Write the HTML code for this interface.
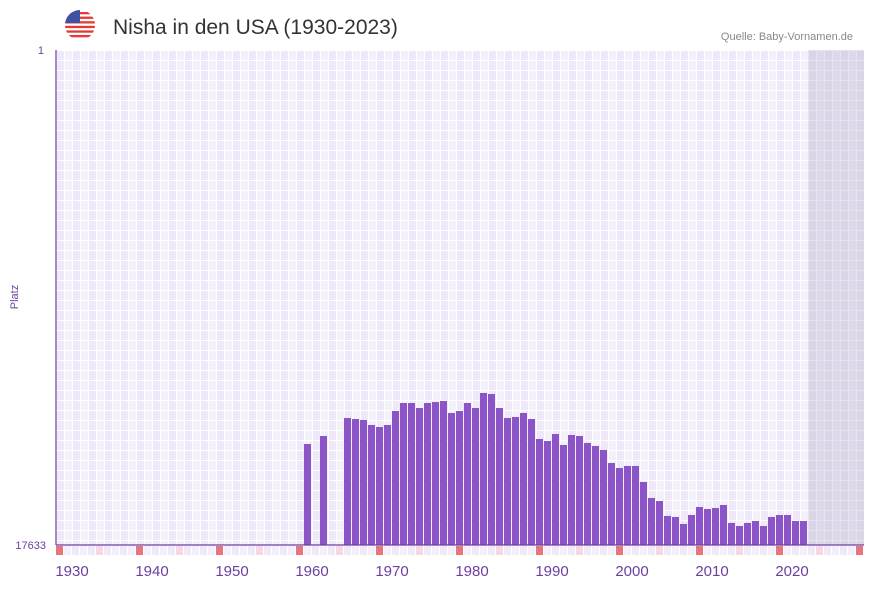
<!DOCTYPE html>
<html><head><meta charset="utf-8"><style>
body{margin:0;background:#fff;width:873px;height:587px;overflow:hidden;font-family:"Liberation Sans",sans-serif}
</style></head><body>
<svg id="chart" width="873" height="587" viewBox="0 0 873 587" xmlns="http://www.w3.org/2000/svg">
<defs>
<pattern id="grid" x="56" y="50" width="16" height="10" patternUnits="userSpaceOnUse">
<rect width="16" height="10" fill="#ffffff"/><rect width="7" height="9" x="1" y="1" fill="#eee8f8"/><rect width="7" height="9" x="9" y="1" fill="#f3effb"/>
</pattern>
<clipPath id="fc"><circle cx="80" cy="25" r="15"/></clipPath>
</defs>
<g clip-path="url(#fc)">
<rect x="65" y="10" width="30" height="30" fill="#fff"/>
<rect x="65" y="12" width="30" height="2.3" fill="#e53935"/><rect x="65" y="16.6" width="30" height="2.3" fill="#e53935"/>
<rect x="65" y="21.2" width="30" height="2.3" fill="#e53935"/><rect x="65" y="25.8" width="30" height="2.3" fill="#e53935"/>
<rect x="65" y="30.4" width="30" height="2.3" fill="#e53935"/><rect x="65" y="35" width="30" height="2.3" fill="#e53935"/>
<rect x="65" y="10" width="15" height="13" fill="#3f51a5"/>
</g>
<text x="113" y="34" font-size="21" fill="#333">Nisha in den USA (1930-2023)</text>
<text x="853" y="40" font-size="11" fill="#888" text-anchor="end">Quelle: Baby-Vornamen.de</text>
<rect x="56" y="50" width="808" height="495" fill="url(#grid)"/>
<rect x="808" y="50" width="56" height="495" fill="#b8b0cc" opacity="0.35"/>
<g id="bars"></g>
<g id="strip"></g>
<g id="xticks"></g>
<line x1="56" y1="50" x2="56" y2="545" stroke="#6a3fa0" stroke-width="1.2"/>
<line x1="56" y1="545" x2="864" y2="545" stroke="#6a3fa0" stroke-width="1.2"/>
<text x="44" y="54" font-size="11" fill="#6a3fa0" text-anchor="end">1</text>
<text x="46" y="549" font-size="11" fill="#6a3fa0" text-anchor="end">17633</text>
<text x="18" y="297" font-size="11" fill="#6a3fa0" text-anchor="middle" transform="rotate(-90 18 297)">Platz</text>
</svg>
<script>
const years=[1959,1961,1964,1965,1966,1967,1968,1969,1970,1971,1972,1973,1974,1975,1976,1977,1978,1979,1980,1981,1982,1983,1984,1985,1986,1987,1988,1989,1990,1991,1992,1993,1994,1995,1996,1997,1998,1999,2000,2001,2002,2003,2004,2005,2006,2007,2008,2009,2010,2011,2012,2013,2014,2015,2016,2017,2018,2019,2020,2021];
const ranks=[14035,13750,13109,13145,13180,13358,13430,13358,12860,12575,12575,12753,12575,12540,12504,12931,12860,12575,12753,12218,12254,12753,13109,13073,12931,13145,13857,13928,13679,14070,13714,13750,13999,14106,14249,14712,14890,14818,14818,15388,15958,16065,16599,16635,16884,16564,16279,16350,16315,16208,16849,16956,16849,16778,16956,16635,16564,16564,16778,16778];
const tickYears=[1930,1940,1950,1960,1970,1980,1990,2000,2010,2020];
const minRank=1, maxRank=17633, firstYear=1928, lastYear=2028;
const X0=56, SLOT=8, YT=50, YB=545;
const xs=y=>X0+(y-firstYear)*SLOT;
const ys=r=>YT+(r-minRank)/(maxRank-minRank)*(YB-YT);
const NS='http://www.w3.org/2000/svg';
const bars=document.getElementById('bars');
years.forEach((yr,i)=>{
 const r=document.createElementNS(NS,'rect');
 const top=ys(ranks[i]);
 r.setAttribute('x',xs(yr));r.setAttribute('y',top);
 r.setAttribute('width',SLOT-1);r.setAttribute('height',YB-top);
 r.setAttribute('fill','#8b55c8');
 
 
 bars.appendChild(r);
});
const strip=document.getElementById('strip');
for(let yr=firstYear;yr<=lastYear;yr++){
 const d=yr%10;
 const c=document.createElementNS(NS,'rect');
 c.setAttribute('x',xs(yr));c.setAttribute('y',546);
 c.setAttribute('width',SLOT-1);c.setAttribute('height',9);
 c.setAttribute('fill',d===8?'#e8747c':d===3?'#f6d8e2':(yr%2?'#f4f0fb':'#eee8f8'));
 
 
 strip.appendChild(c);
}
const xt=document.getElementById('xticks');
tickYears.forEach(t=>{
 const e=document.createElementNS(NS,'text');
 e.setAttribute('x',xs(t));e.setAttribute('y',576);
 e.setAttribute('font-size','15');e.setAttribute('fill','#6a3fa0');
 e.setAttribute('text-anchor','middle');
 
 
 e.textContent=t;xt.appendChild(e);
});
</script>
</body></html>
